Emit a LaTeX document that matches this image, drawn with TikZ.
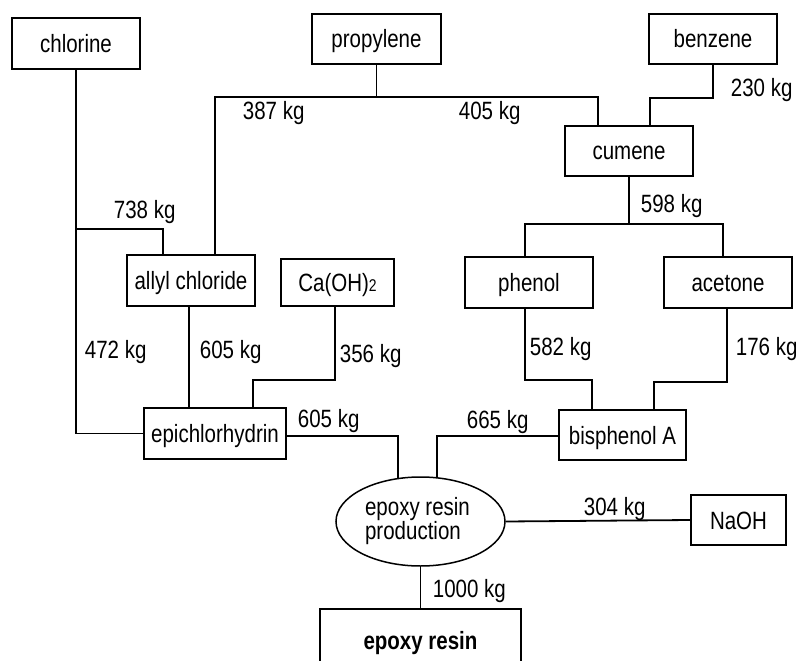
\documentclass[tikz,border=0pt]{standalone}
\usepackage{fontspec}
\setmainfont{Liberation Sans}[FakeStretch=0.82]
\usetikzlibrary{shapes.geometric,calc}
\begin{document}
\begin{tikzpicture}[x=1pt,y=-1pt,
  line width=1.8pt,
  every node/.style={font=\fontsize{25}{25}\selectfont, inner sep=0pt},
  box/.style={draw, line width=1.5pt, text height=18pt, text depth=0pt, minimum width=128pt, minimum height=51pt},
  lbl/.style={anchor=base west},
  conn/.style={line width=1.8pt}]
\clip (0,0) rectangle (796,661);
% boxes
\node[box] (chlorine) at (76,43.5) {chlorine};
\node[box, minimum width=129pt, minimum height=50pt] (propylene) at (376.5,39) {propylene};
\node[box, minimum height=50pt] (benzene) at (713,39) {benzene};
\node[box, minimum height=50pt] (cumene) at (629,151) {cumene};
\node[box] (allyl) at (191,280.5) {allyl chloride};
\node[box, minimum width=113pt, minimum height=47pt] (caoh) at (337.5,282.5) {Ca(OH){\fontsize{17}{17}\selectfont 2}};
\node[box] (phenol) at (529,282.5) {phenol};
\node[box] (acetone) at (728,282.5) {acetone};
\node[box, minimum width=142pt] (epi) at (215,433.5) {epichlorhydrin};
\node[box, minimum width=127pt, minimum height=50pt] (bis) at (622.5,435) {bisphenol A};
\node[draw, ellipse, line width=1.5pt, minimum width=169pt, minimum height=89pt, align=left] (epr) at (420.5,521.5) {\hspace*{-6pt}epoxy resin\\[-1pt]\hspace*{-6pt}production};
\node[box, minimum width=95pt, minimum height=50pt] (naoh) at (738.5,520) {NaOH};
\node[box, minimum width=201pt, minimum height=62pt, font=\fontsize{25}{25}\selectfont\bfseries] (resin) at (420.5,640) {epoxy resin};
% connectors
\coordinate (cj1) at (77,229);
\coordinate (pj) at (378,97);
\draw[conn] (chlorine.south) -- (chlorine.south |- epi.west) -- (epi.west);
\draw[conn] (chlorine.south |- cj1) -| ([xshift=-28pt]allyl.north);
\draw[conn] (propylene.south) -- (propylene.south |- pj);
\draw[conn] ([xshift=24pt]allyl.north) |- (pj) -| ([xshift=-31pt]cumene.north);
\draw[conn] (benzene.south) -- ++(0,33) -| ([xshift=21pt]cumene.north);
\draw[conn] (cumene.south) -- ++(0,47) coordinate (cj);
\draw[conn] ([xshift=-4pt]phenol.north) |- (cj) -| ([xshift=-5pt]acetone.north);
\draw[conn] ([xshift=-2pt]allyl.south) -- ([xshift=-2pt]allyl.south |- epi.north);
\draw[conn] ([xshift=-2.5pt]caoh.south) -- ++(0,73) -| ([xshift=38pt]epi.north);
\draw[conn] ([xshift=-4pt]phenol.south) -- ++(0,71) -| ([xshift=-30.5pt]bis.north);
\draw[conn] ([xshift=-1pt]acetone.south) -- ++(0,73) -| ([xshift=31.5pt]bis.north);
\draw[conn] ([yshift=-2.5pt]epi.east) -| ([xshift=-22.5pt,yshift=-1.5pt]epr.north);
\draw[conn] ([yshift=-1pt]bis.west) -| ([xshift=16.5pt,yshift=-0.5pt]epr.north);
\draw[conn] (epr.east) -- (naoh.west);
\draw[conn] (epr.south) -- (resin.north);
% labels
\node[lbl] (l738) at (113,218) {738 kg};
\node[lbl] (l387) at (242,120) {387 kg};
\node[lbl] (l405) at (458,120) {405 kg};
\node[lbl] (l230) at (730,97) {230 kg};
\node[lbl] (l598) at (640,212) {598 kg};
\node[lbl] (l472) at (84,358) {472 kg};
\node[lbl] (l605a) at (199,358) {605 kg};
\node[lbl] (l356) at (339,362) {356 kg};
\node[lbl] (l605b) at (297,427) {605 kg};
\node[lbl] (l582) at (529,355) {582 kg};
\node[lbl] (l176) at (735,355) {176 kg};
\node[lbl] (l665) at (466,428) {665 kg};
\node[lbl] (l304) at (583,515) {304 kg};
\node[lbl] (l1000) at (432,597) {1000 kg};
\end{tikzpicture}
\end{document}
